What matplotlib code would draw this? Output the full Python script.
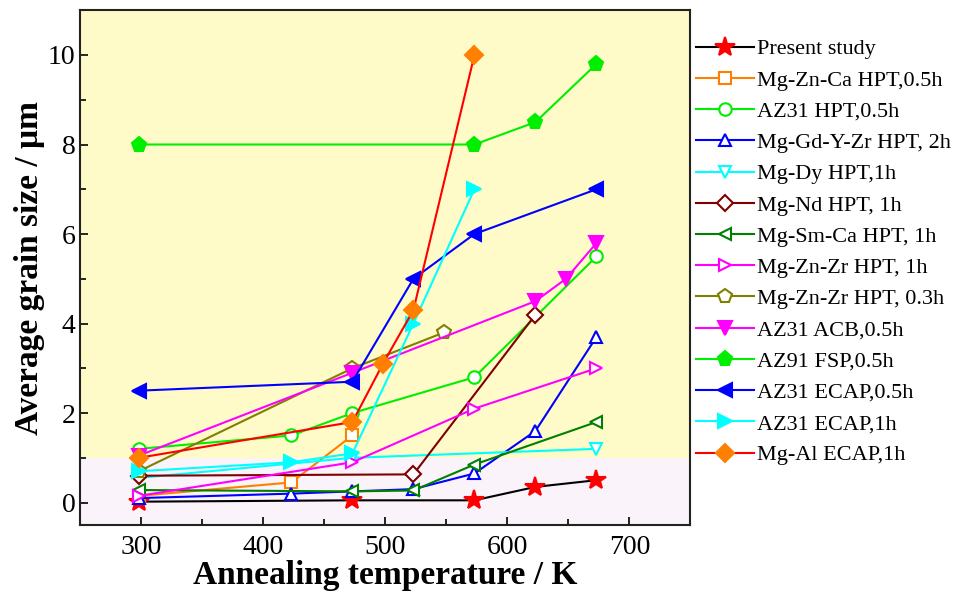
import matplotlib
matplotlib.use("Agg")
import matplotlib.pyplot as plt
from matplotlib.ticker import MultipleLocator

plt.rcParams["font.family"] = ["Liberation Serif", "DejaVu Serif"]

# temperatures (K) and grain sizes (um)
present_T = [298, 473, 573, 623, 673]
present_d = [0.02, 0.05, 0.05, 0.35, 0.5]

znca_T = [298, 423, 473]
znca_d = [0.15, 0.45, 1.5]

az31hpt_T = [298, 423, 473, 573, 673]
az31hpt_d = [1.2, 1.5, 2.0, 2.8, 5.5]

gdyzr_T = [298, 423, 473, 523, 573, 623, 673]
gdyzr_d = [0.1, 0.2, 0.25, 0.3, 0.65, 1.6, 3.7]

dy_T = [298, 473, 673]
dy_d = [0.55, 1.0, 1.2]

nd_T = [298, 523, 623]
nd_d = [0.6, 0.63, 4.2]

smca_T = [298, 473, 523, 573, 673]
smca_d = [0.28, 0.25, 0.27, 0.85, 1.8]

znzr1_T = [298, 473, 573, 673]
znzr1_d = [0.15, 0.9, 2.1, 3.0]

znzr03_T = [298, 473, 548]
znzr03_d = [0.7, 3.0, 3.8]

acb_T = [298, 473, 623, 648, 673]
acb_d = [1.05, 2.9, 4.5, 5.0, 5.8]

fsp_T = [298, 573, 623, 673]
fsp_d = [8.0, 8.0, 8.5, 9.8]

ecap05_T = [298, 473, 523, 573, 673]
ecap05_d = [2.5, 2.7, 5.0, 6.0, 7.0]

ecap1_T = [298, 423, 473, 523, 573]
ecap1_d = [0.7, 0.9, 1.1, 4.0, 7.0]

mgal_T = [298, 473, 498, 523, 573]
mgal_d = [1.0, 1.8, 3.1, 4.3, 10.0]

# (label, T, d, line colour, marker, marker face, marker edge, size)
series = [
    ("Present study", present_T, present_d, "black", "*", "red", "red", 15),
    ("Mg-Zn-Ca HPT,0.5h", znca_T, znca_d, "#FF8000", "s", "white", "#FF8000", 8),
    ("AZ31 HPT,0.5h", az31hpt_T, az31hpt_d, "#00EE00", "o", "white", "#00EE00", 9),
    ("Mg-Gd-Y-Zr HPT, 2h", gdyzr_T, gdyzr_d, "#0000FF", "^", "white", "#0000FF", 9),
    ("Mg-Dy HPT,1h", dy_T, dy_d, "#00FFFF", "v", "white", "#00FFFF", 9),
    ("Mg-Nd HPT, 1h", nd_T, nd_d, "#800000", "D", "white", "#800000", 8),
    ("Mg-Sm-Ca HPT, 1h", smca_T, smca_d, "#008000", "<", "white", "#008000", 9),
    ("Mg-Zn-Zr HPT, 1h", znzr1_T, znzr1_d, "#FF00FF", ">", "white", "#FF00FF", 9),
    ("Mg-Zn-Zr HPT, 0.3h", znzr03_T, znzr03_d, "#808000", "p", "white", "#808000", 10),
    ("AZ31 ACB,0.5h", acb_T, acb_d, "#FF00FF", "v", "#FF00FF", "#FF00FF", 10),
    ("AZ91 FSP,0.5h", fsp_T, fsp_d, "#00EE00", "p", "#00EE00", "#00EE00", 11),
    ("AZ31 ECAP,0.5h", ecap05_T, ecap05_d, "#0000FF", "<", "#0000FF", "#0000FF", 10),
    ("AZ31 ECAP,1h", ecap1_T, ecap1_d, "#00FFFF", ">", "#00FFFF", "#00FFFF", 10),
    ("Mg-Al ECAP,1h", mgal_T, mgal_d, "#FF0000", "D", "#FF8000", "#FF8000", 9),
]

fig = plt.figure(figsize=(9.67, 6.02), dpi=100, facecolor="white")
ax = fig.add_axes([0.083, 0.128, 0.631, 0.855])
ax.set_facecolor("#FFFBC8")
ax.axhspan(-0.5, 1.0, color="#FAF3FA", zorder=0, lw=0)

for lab, T, d, lc, mk, mf, me, ms in series:
    ax.plot(T, d, color=lc, lw=1.5, marker=mk, markersize=ms,
            markerfacecolor=mf, markeredgecolor=me, markeredgewidth=1.5,
            label=lab, zorder=3)

ax.set_xlim(250, 750)
ax.set_ylim(-0.5, 11)
ax.xaxis.set_major_locator(MultipleLocator(100))
ax.xaxis.set_minor_locator(MultipleLocator(50))
ax.yaxis.set_major_locator(MultipleLocator(2))
ax.yaxis.set_minor_locator(MultipleLocator(1))
ax.tick_params(which="both", direction="in", width=1.2, labelsize=20,
               top=False, right=False)
ax.tick_params(axis="x", pad=7)
ax.tick_params(which="major", length=6)
ax.tick_params(which="minor", length=4)
for s in ax.spines.values():
    s.set_linewidth(1.5)
    s.set_color("#222222")

ax.set_xlabel("Annealing temperature / K", fontsize=24, fontweight="bold", labelpad=0)
ax.set_ylabel("Average grain size / μm", fontsize=24, fontweight="bold", labelpad=2)

ax.legend(loc="center left", bbox_to_anchor=(1.0, 0.53), frameon=False,
          fontsize=16, handlelength=2.6, handletextpad=0.15, labelspacing=0.48,
          borderaxespad=0.05, borderpad=0.2, numpoints=1)

fig.savefig("out.png", dpi=100)
